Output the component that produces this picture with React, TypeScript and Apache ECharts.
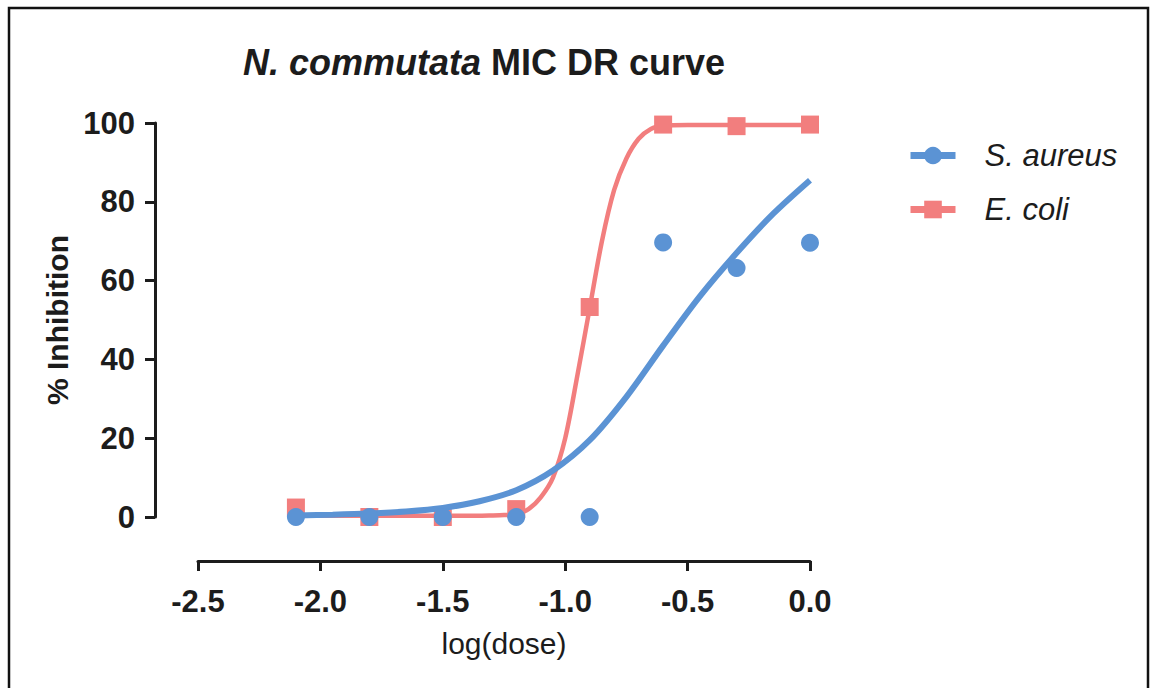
import React, { useEffect, useRef } from "react";
import * as echarts from "echarts";

// ---- data ----
const doseX = [-2.1, -1.8, -1.5, -1.2, -0.9, -0.6, -0.3, 0.0];
const aureusPoints = [0, 0, 0, 0, 0, 69.7, 63.2, 69.6];
const coliPoints = [2.4, 0, 0, 2.0, 53.3, 99.6, 99.2, 99.6];

// fitted curves
const aureusCurveX = [-2.1, -1.95, -1.8, -1.65, -1.5, -1.35, -1.2, -1.05, -0.9, -0.75, -0.6, -0.45, -0.3, -0.15, 0.0];
const aureusCurveY = [0.4, 0.6, 0.9, 1.4, 2.3, 4.0, 6.8, 11.8, 19.5, 30.5, 43.5, 56.0, 67.0, 77.0, 85.5];
const coliCurveX = [-2.1, -1.95, -1.8, -1.65, -1.5, -1.4, -1.3, -1.25, -1.2, -1.15, -1.1, -1.05, -1.0, -0.95, -0.9, -0.85, -0.8, -0.75, -0.7, -0.65, -0.6, -0.5, -0.4, -0.3, -0.2, -0.1, 0.0];
const coliCurveY = [0.3, 0.3, 0.3, 0.3, 0.3, 0.3, 0.4, 0.5, 0.8, 2.0, 5.0, 10.0, 20.0, 36.0, 53.0, 70.0, 83.0, 91.0, 96.0, 98.5, 99.3, 99.5, 99.5, 99.5, 99.5, 99.5, 99.5];

const xTicks = { min: -2.5, max: 0, interval: 0.5 };
const yTicks = { min: 0, max: 100, interval: 20 };

const BLUE = "#5b93d4";
const RED = "#f27e7e";
const INK = "#1c1c1c";
const FONT = "'Liberation Sans', Arial, Helvetica, sans-serif";

const pairs = (xs: number[], ys: number[]) => xs.map((x, i) => [x, ys[i]]);

export default function App() {
  const ref = useRef<HTMLDivElement>(null);
  useEffect(() => {
    if (!ref.current) return;
    const chart = echarts.init(ref.current, undefined, { renderer: "svg" });
    chart.setOption({
      animation: false,
      backgroundColor: "#ffffff",
      grid: { left: 198, right: 342, top: 123, bottom: 171, containLabel: false },
      graphic: [
        {
          type: "rect",
          shape: { x: 9, y: 8, width: 1139, height: 720 },
          style: { fill: "none", stroke: "#111", lineWidth: 2.5 },
          silent: true,
        },
        {
          type: "text",
          x: 484,
          y: 62,
          style: {
            text: "{i|N. commutata}{b| MIC DR curve}",
            align: "center",
            verticalAlign: "middle",
            rich: {
              i: { fontFamily: FONT, fontSize: 36, fontWeight: "bold", fontStyle: "italic", fill: INK },
              b: { fontFamily: FONT, fontSize: 36, fontWeight: "bold", fill: INK },
            },
          },
        },
      ],
      legend: {
        left: 907,
        top: 140,
        padding: 0,
        orient: "vertical",
        itemWidth: 45,
        itemHeight: 22,
        itemGap: 23,
        data: ["S. aureus", "E. coli"],
        lineStyle: { width: 7 },
        textStyle: {
          fontFamily: FONT,
          fontSize: 31,
          fontStyle: "italic",
          color: INK,
          lineHeight: 30,
          padding: [0, 0, 0, 24],
        },
      },
      xAxis: {
        type: "value",
        min: xTicks.min,
        max: xTicks.max,
        interval: xTicks.interval,
        offset: 44,
        name: "log(dose)",
        nameLocation: "middle",
        nameGap: 67,
        nameTextStyle: { fontFamily: FONT, fontSize: 30, color: INK },
        axisLine: { show: true, onZero: false, lineStyle: { color: INK, width: 3 } },
        axisTick: { show: true, length: 10, lineStyle: { color: INK, width: 3 } },
        axisLabel: {
          fontFamily: FONT,
          fontSize: 31,
          fontWeight: "bold",
          color: INK,
          margin: 25,
          formatter: (v: number) => v.toFixed(1),
        },
        splitLine: { show: false },
      },
      yAxis: {
        type: "value",
        min: yTicks.min,
        max: yTicks.max,
        interval: yTicks.interval,
        offset: 43,
        name: "% Inhibition",
        nameLocation: "middle",
        nameRotate: 90,
        nameGap: 77,
        nameTextStyle: { fontFamily: FONT, fontSize: 30, fontWeight: "bold", color: INK },
        axisLine: { show: true, onZero: false, lineStyle: { color: INK, width: 3 } },
        axisTick: { show: true, length: 10, lineStyle: { color: INK, width: 3 } },
        axisLabel: { fontFamily: FONT, fontSize: 31, fontWeight: "bold", color: INK, margin: 20 },
        splitLine: { show: false },
      },
      series: [
        {
          name: "S. aureus",
          type: "line",
          data: pairs(aureusCurveX, aureusCurveY),
          smooth: 0.3,
          symbol: "circle",
          symbolSize: 18,
          showSymbol: false,
          lineStyle: { color: BLUE, width: 6 },
          itemStyle: { color: BLUE },
          z: 4,
        },
        {
          name: "E. coli",
          type: "line",
          data: pairs(coliCurveX, coliCurveY),
          smooth: 0.3,
          symbol: "rect",
          symbolSize: 18,
          showSymbol: false,
          lineStyle: { color: RED, width: 4.5 },
          itemStyle: { color: RED },
          z: 2,
        },
        {
          name: "E. coli",
          type: "scatter",
          data: pairs(doseX, coliPoints),
          symbol: "rect",
          symbolSize: 18,
          itemStyle: { color: RED, opacity: 1 },
          z: 3,
        },
        {
          name: "S. aureus",
          type: "scatter",
          data: pairs(doseX, aureusPoints),
          symbol: "circle",
          symbolSize: 18,
          itemStyle: { color: BLUE, opacity: 1 },
          z: 5,
        },
      ],
    });
    return () => chart.dispose();
  }, []);
  return (
    <div
      ref={ref}
      style={{ position: "absolute", left: 0, top: 0, width: 1152, height: 688 }}
    />
  );
}
